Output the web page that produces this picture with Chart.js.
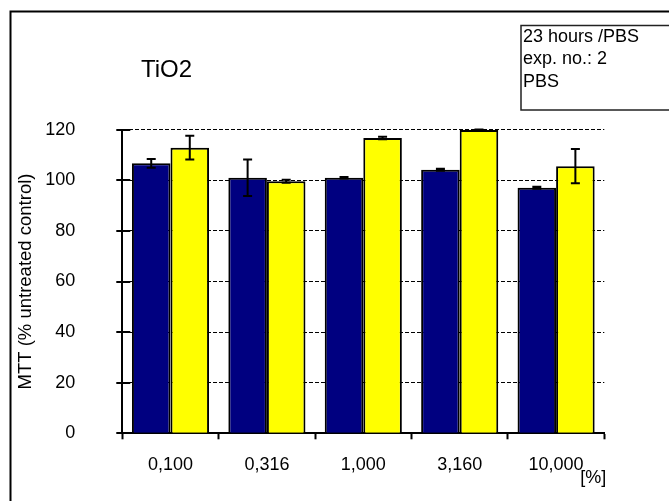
<!DOCTYPE html>
<html>
<head>
<meta charset="utf-8">
<script src="https://cdn.jsdelivr.net/npm/chart.js@4/dist/chart.umd.min.js"></script>
<style>
  html, body { margin: 0; padding: 0; background: #fff; }
  canvas { display: block; }
</style>
</head>
<body>
<canvas id="c" width="669" height="501"></canvas>
<script>
// Concentrations of TiO2 (%)
const categories = ['0,100', '0,316', '1,000', '3,160', '10,000'];

// MTT viability, % of untreated control, with error half-widths
const seriesNavy = [106.7, 101.0, 101.0, 104.2, 97.1];
const errorNavy = [1.7, 7.2, 0.3, 0.4, 0.4];
const seriesYellow = [112.9, 99.6, 116.7, 119.9, 105.6];
const errorYellow = [4.7, 0.6, 0.5, 0.2, 6.8];

// Y axis ticks
const yTickValues = [0, 20, 40, 60, 80, 100, 120];

const infoLines = ['23 hours /PBS', 'exp. no.: 2', 'PBS'];
const chartTitle = 'TiO2';
const unitLabel = '[%]';
const yTitle = 'MTT (% untreated control)';

const FONT = '"Liberation Sans", Arial, Helvetica, sans-serif';
Chart.defaults.font.family = FONT;
Chart.defaults.color = '#000';

// Frame, info box and free-standing labels
const decorations = {
  id: 'decorations',
  beforeDraw(chart) {
    const ctx = chart.ctx;
    ctx.save();
    ctx.fillStyle = '#fff';
    ctx.fillRect(0, 0, chart.width, chart.height);

    // outer frame (runs off the right and bottom edges)
    ctx.strokeStyle = '#000';
    ctx.lineWidth = 2;
    ctx.strokeRect(10.5, 11.5, 720, 560);

    // info box
    ctx.strokeStyle = '#222';
    ctx.lineWidth = 1.5;
    ctx.strokeRect(521, 25.5, 200, 84.5);
    ctx.fillStyle = '#000';
    ctx.font = '18px ' + FONT;
    ctx.textAlign = 'left';
    ctx.textBaseline = 'alphabetic';
    infoLines.forEach((t, i) => ctx.fillText(t, 523, 41.7 + i * 22.5));

    // chart title
    ctx.font = '24px ' + FONT;
    ctx.fillText(chartTitle, 141, 76.7);
    ctx.restore();
  },
  afterDraw(chart) {
    const ctx = chart.ctx;
    const y = chart.scales.y;
    const x = chart.scales.x;
    ctx.save();
    // y tick marks crossing the axis
    ctx.strokeStyle = '#000';
    ctx.lineWidth = 2;
    ctx.beginPath();
    y.ticks.forEach(t => {
      const py = Math.round(y.getPixelForValue(t.value));
      ctx.moveTo(chart.chartArea.left - 6, py);
      ctx.lineTo(chart.chartArea.left + 8, py);
    });
    ctx.stroke();

    // unit label at the end of the x axis
    ctx.fillStyle = '#000';
    ctx.font = '18px ' + FONT;
    ctx.textAlign = 'left';
    ctx.textBaseline = 'alphabetic';
    ctx.fillText(unitLabel, x.right - 24, 483);
    ctx.restore();
  }
};

// Error bars drawn from each bar's value through the y scale
const errorBars = {
  id: 'errorBars',
  afterDatasetsDraw(chart) {
    const ctx = chart.ctx;
    const yScale = chart.scales.y;
    const errs = [errorNavy, errorYellow];
    ctx.save();
    ctx.strokeStyle = '#000';
    ctx.lineWidth = 2;
    chart.data.datasets.forEach((ds, di) => {
      const meta = chart.getDatasetMeta(di);
      meta.data.forEach((bar, i) => {
        const v = ds.data[i];
        const e = errs[di][i];
        const yTop = yScale.getPixelForValue(v + e);
        const yBot = yScale.getPixelForValue(v - e);
        const cx = bar.x;
        const cap = 4.5;
        ctx.beginPath();
        ctx.moveTo(cx, yTop); ctx.lineTo(cx, yBot);
        ctx.moveTo(cx - cap, yTop); ctx.lineTo(cx + cap, yTop);
        ctx.moveTo(cx - cap, yBot); ctx.lineTo(cx + cap, yBot);
        ctx.stroke();
      });
    });
    ctx.restore();
  }
};

new Chart(document.getElementById('c'), {
  type: 'bar',
  data: {
    labels: categories,
    datasets: [
      {
        label: 'Series 1',
        data: seriesNavy,
        backgroundColor: '#000080',
        borderColor: '#000',
        borderWidth: 2,
        borderSkipped: 'bottom',
        categoryPercentage: 0.8,
        barPercentage: 1.0
      },
      {
        label: 'Series 2',
        data: seriesYellow,
        backgroundColor: '#ffff00',
        borderColor: '#000',
        borderWidth: 2,
        borderSkipped: 'bottom',
        categoryPercentage: 0.8,
        barPercentage: 1.0
      }
    ]
  },
  options: {
    responsive: false,
    devicePixelRatio: 1,
    animation: false,
    layout: { padding: { left: 0, right: 64.7, top: 129.7, bottom: 0 } },
    plugins: {
      legend: { display: false },
      title: { display: false },
      tooltip: { enabled: false }
    },
    scales: {
      x: {
        afterFit(scale) { scale.height = 501 - 433.3; },
        grid: {
          display: true,
          offset: true,
          drawOnChartArea: false,
          drawTicks: true,
          tickLength: 6,
          tickWidth: 2,
          tickColor: '#000'
        },
        border: { display: true, color: '#000', width: 2 },
        ticks: {
          font: { size: 18 },
          color: '#000',
          padding: 15,
          maxRotation: 0,
          autoSkip: false
        }
      },
      y: {
        min: 0,
        max: 120,
        afterFit(scale) { scale.width = 122.3; },
        afterBuildTicks(scale) { scale.ticks = yTickValues.map(v => ({ value: v })); },
        grid: {
          display: true,
          drawTicks: false,
          lineWidth: 1,
          color: ctx => (ctx.tick && ctx.tick.value === 0) ? 'rgba(0,0,0,0)' : '#000'
        },
        border: { display: true, color: '#000', width: 2, dash: [4, 2] },
        ticks: {
          font: { size: 18 },
          color: '#000',
          padding: 47
        },
        title: {
          display: true,
          text: yTitle,
          font: { size: 18.5 },
          color: '#000',
          padding: { top: 15, bottom: 0 }
        }
      }
    }
  },
  plugins: [decorations, errorBars]
});
</script>
</body>
</html>
